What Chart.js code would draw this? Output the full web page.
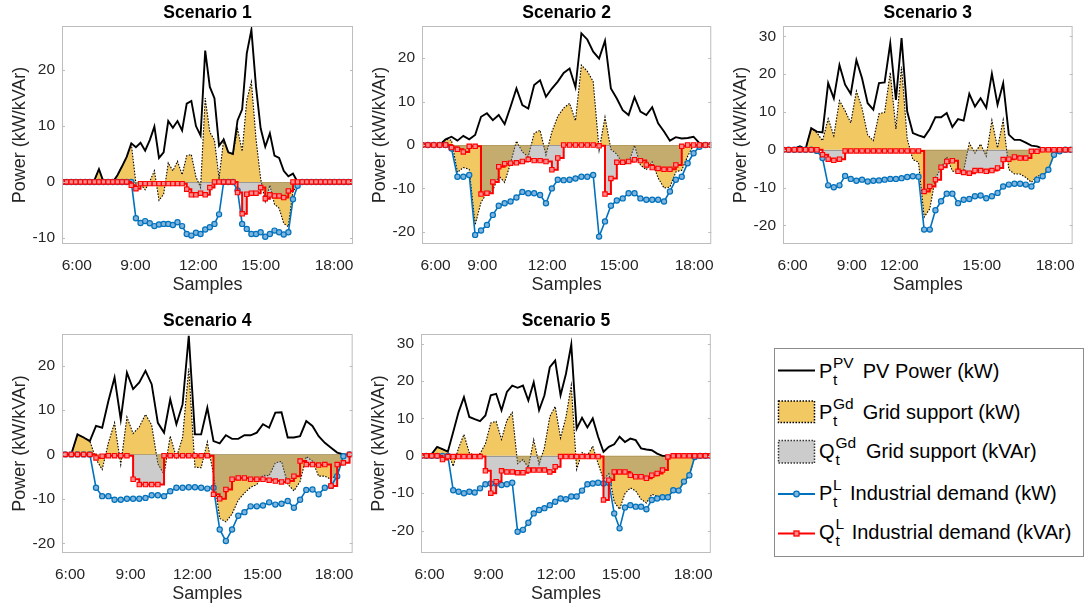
<!DOCTYPE html>
<html>
<head>
<meta charset="utf-8">
<script src="https://cdn.jsdelivr.net/npm/chart.js@4.4.0/dist/chart.umd.min.js"></script>
<style>
  html, body { margin: 0; padding: 0; background: #fff; }
  body { width: 1089px; height: 611px; position: relative; overflow: hidden;
         font-family: "Liberation Sans", Arial, sans-serif; }
  canvas.panel { position: absolute; }
  #legendKeys { position: absolute; left: 0; top: 0; }
  .lg { position: absolute; white-space: nowrap; line-height: 1; color: #000; }
  .big { font-size: 20px; }
  .small { font-size: 15.5px; }
</style>
</head>
<body>
<canvas class="panel" id="sc1"></canvas>
<canvas class="panel" id="sc2"></canvas>
<canvas class="panel" id="sc3"></canvas>
<canvas class="panel" id="sc4"></canvas>
<canvas class="panel" id="sc5"></canvas>

<svg id="legendKeys" width="1089" height="611">
  <rect x="774.5" y="348.5" width="309" height="208" fill="#fff" stroke="#8c8c8c" stroke-width="1"/>
  <line x1="778" y1="370.5" x2="815" y2="370.5" stroke="#000" stroke-width="2"/>
  <rect x="778.5" y="401" width="36" height="21.5" fill="rgb(242,200,99)" stroke="#000" stroke-width="1.5" stroke-dasharray="1.5 1.5"/>
  <rect x="778.5" y="440.5" width="36" height="22.5" fill="rgb(204,204,204)" stroke="#333" stroke-width="1.5" stroke-dasharray="1.5 1.5"/>
  <line x1="778" y1="494" x2="815" y2="494" stroke="#0072bd" stroke-width="2"/>
  <circle cx="796.5" cy="494" r="2.8" fill="#80b4dc" stroke="#0072bd" stroke-width="1.3"/>
  <line x1="778" y1="533.5" x2="815" y2="533.5" stroke="#ff0000" stroke-width="2"/>
  <rect x="794" y="531" width="5" height="5" fill="#ff8c8c" stroke="#ff0000" stroke-width="1.3"/>
</svg>
<div id="legendText"></div>

<script>
(function(){

    const hourLabels = ['6:00', '9:00', '12:00', '15:00', '18:00'];

    // Scenario 1
    const pv1 = [0,0,0,0,0,0,0,0.3,2.3,0,0,0,1.2,2.8,4.5,6.9,6.2,7.0,5.6,7.5,9.9,4.3,5.3,10.9,9.7,10.9,9.2,14.0,14.5,10.0,8.3,23.5,17.0,15.0,6.5,7.6,5.3,5.0,11.0,13.0,23.0,27.2,17.0,9.6,6.3,8.7,4.7,4.3,2.0,1.0,1.5,0,0,0,0,0,0,0,0,0,0,0,0,0];
    const pGrid1 = [0,0,0,0,0,0,0,0.3,2.3,0,0,0,1.2,2.8,4.5,6.9,-0.3,-0.4,-1.4,0.1,2.0,-3.3,-2.2,3.4,2.0,3.7,1.3,4.7,4.9,0.9,-1.0,15.0,8.9,7.5,0.7,7.6,5.3,5.0,9.5,5.5,14.6,17.9,7.7,0.6,-3.5,-0.6,-4.0,-4.7,-7.4,-8.0,-1.6,-0.7,0,0,0,0,0,0,0,0,0,0,0,0];
    const pLoad1 = [0,0,0,0,0,0,0,0,0,0,0,0,0,0,0,0,-6.5,-7.35,-7.0,-7.4,-7.9,-7.6,-7.5,-7.5,-7.7,-7.2,-7.9,-9.3,-9.6,-9.1,-9.3,-8.5,-8.1,-7.5,-5.8,0,0,0,-1.5,-7.5,-8.4,-9.3,-9.3,-9.0,-9.8,-9.3,-8.7,-9.0,-9.4,-9.0,-3.1,-0.7,0,0,0,0,0,0,0,0,0,0,0,0];
    const qLoad1 = [0,0,0,0,0,0,0,0,0,0,0,0,0,0,0,-0.6,-1.2,-0.3,-0.3,-0.3,-0.3,-0.3,-0.3,-0.3,-0.3,-0.3,-0.3,-1.3,-2.3,-2.3,-2.0,-2.3,-1.0,0,0,0,0,0,-1.9,-5.7,-2.2,-2.0,-2.0,-1.0,-3.0,-2.3,-2.5,-2.5,-2.8,-1.6,0,0,0,0,0,0,0,0,0,0,0,0,0,0];
    const hourAt1 = [3.2, 15.9, 29.5, 43.0, 58.9];

    // Scenario 2
    const pv2 = [0,0,0,0,1.3,1.9,1.0,2.1,1.3,2.3,6.5,7.3,5.7,6.9,4.8,8.8,13.0,9.2,8.4,13.8,14.9,11.1,13.0,14.6,16.6,17.6,13.3,25.7,24.3,21.5,19.9,24.0,13.0,10.7,8.0,6.9,11.0,7.7,6.9,8.7,5.0,3.1,1.0,1.8,1.5,1.6,1.9,0.4,0,0];
    const pGrid2 = [0,0,0,0,1.3,1.1,-6.3,-5.2,-5.6,-18.4,-13.2,-11.1,-10.4,-7.1,-8.6,-4.2,0.9,-1.6,-2.7,2.7,3.4,-2.3,3.0,6.6,8.5,9.6,5.6,18.4,17.0,14.6,-1.2,6.4,-1.0,-2.1,-4.3,-4.2,-0.1,-4.6,-5.7,-3.9,-7.6,-9.9,-9.7,-6.2,-5.8,-2.6,0,0,0,0];
    const pLoad2 = [0,0,0,0,0,-0.8,-7.3,-7.3,-6.9,-20.7,-19.7,-18.4,-16.1,-14.0,-13.4,-13.0,-12.1,-10.8,-11.1,-11.1,-11.5,-13.4,-10.0,-8.0,-8.1,-8.0,-7.7,-7.3,-7.3,-6.9,-21.1,-17.6,-14.0,-12.8,-12.3,-11.1,-11.1,-12.3,-12.6,-12.6,-12.6,-13.0,-10.7,-8.0,-7.3,-4.2,-1.9,-0.4,0,0];
    const qLoad2 = [0,0,0,0,0,-0.6,-1.0,-1.6,-0.3,-0.3,-11.3,-11.1,-8.5,-5.0,-4.3,-4.2,-4.1,-3.8,-3.3,-3.6,-3.6,-3.8,-5.7,-3.0,0,0,0,0,0,0,-0.2,-11.3,-7.7,-4.0,-4.0,-3.8,-3.4,-3.6,-4.6,-5.2,-5.4,-5.6,-5.6,-4.6,-0.3,0,0,0,0,0];
    const hourAt2 = [2.3, 10.2, 21.2, 33.4, 46.1];

    // Scenario 3
    const pv3 = [0,0,0.3,0.9,0.2,5.7,4.8,4.6,17.6,13.6,22.4,17.2,14.8,23.7,18.9,12.3,10.6,17.6,17.8,28.1,13.2,29.5,10.1,4.4,3.8,3.3,5.5,8.6,8.6,9.7,6.0,8.1,7.7,14.8,11.4,13.6,11.1,20.1,11.9,17.6,4.0,2.6,2.6,1.9,1.1,0.9,0.3,0,0,0,0,0];
    const pGrid3 = [0,0,0.3,0.9,0.2,5.7,4.5,2.4,8.2,3.7,13.0,10.3,7.1,15.5,11.0,3.9,2.4,9.5,9.9,20.4,5.5,22.0,2.9,-2.6,-3.3,-17.8,-15.6,-7.4,-5.0,-1.9,-5.6,-6.0,-5.5,1.8,-0.9,1.5,-1.7,7.8,0.5,7.9,-5.2,-6.4,-6.4,-7.3,-8.6,-7.0,-6.7,-5.3,-1.3,-0.4,0,0];
    const pLoad3 = [0,0,0,0,0,0,-0.3,-2.2,-9.4,-9.9,-9.4,-6.9,-7.7,-8.2,-7.9,-8.4,-8.2,-8.1,-7.9,-7.7,-7.7,-7.5,-7.2,-7.0,-7.1,-21.1,-21.1,-16.0,-13.6,-11.6,-11.6,-14.1,-13.2,-13.0,-12.3,-12.1,-12.8,-12.3,-11.4,-9.7,-9.2,-9.0,-9.0,-9.2,-9.7,-7.9,-7.0,-5.3,-1.3,-0.4,0,0];
    const qLoad3 = [0,0,0,0,0,0,0,-1.3,-2.5,-2.8,-2.5,-0.3,-0.3,-0.3,-0.3,-0.3,-0.3,-0.3,-0.3,-0.3,-0.3,-0.3,-0.3,-0.3,-0.3,-11.0,-9.7,-7.9,-4.6,-3.1,-2.9,-5.7,-6.0,-6.2,-5.5,-5.5,-5.7,-5.5,-4.8,-2.6,-2.5,-1.9,-2.2,-2.2,-0.4,-0.4,0,0,0,0,0,0];
    const hourAt3 = [1.7, 12.2, 20.6, 35.2, 48.2];

    // Scenario 4
    const pv4 = [0,0,4.5,3.8,3.0,6.4,6.0,12.0,17.3,7.9,18.4,14.7,16.2,18.8,15.8,7.1,4.9,12.4,6.8,11.3,26.7,4.5,4.5,10.5,3.0,2.5,4.3,3.5,3.5,4.3,4.3,4.9,6.8,6.0,9.4,9.5,3.8,3.8,4.1,7.5,6.4,4.1,2.6,1.5,0.4,0,0];
    const pGrid4 = [0,0,4.5,3.8,3.0,-1.1,-3.4,2.6,7.1,-2.3,8.4,4.7,6.2,9.0,6.6,-2.1,-4.5,4.1,-0.7,3.8,19.3,-2.9,-3.0,2.8,-4.5,-14.4,-15.2,-13.4,-10.3,-8.7,-7.4,-6.8,-4.7,-4.8,-1.9,-1.6,-6.7,-8.2,-6.1,-0.5,-1.5,-4.9,-4.9,-5.6,-4.5,-0.4,0];
    const pLoad4 = [0,0,0,0,0,-7.5,-9.4,-9.4,-10.2,-10.2,-10.0,-10.0,-10.0,-9.8,-9.2,-9.2,-9.4,-8.3,-7.5,-7.5,-7.4,-7.4,-7.5,-7.7,-7.5,-16.9,-19.5,-16.9,-13.8,-13.0,-11.7,-11.7,-11.5,-10.8,-11.3,-11.1,-10.5,-12.0,-10.2,-8.0,-7.9,-9.0,-7.5,-7.1,-4.9,-0.4,0];
    const qLoad4 = [0,0,0,0,0,-0.8,-0.4,-0.3,-0.3,-0.3,-0.3,-5.6,-6.8,-6.8,-6.8,-6.8,-0.3,-0.3,-0.3,-0.3,-0.3,-0.3,-0.3,-0.3,-9.0,-10.0,-7.9,-5.6,-5.3,-5.3,-5.6,-5.6,-5.6,-5.8,-6.0,-6.2,-6.0,-4.9,-1.5,-2.3,-2.3,-2.4,-2.3,-7.1,-2.3,-1.9,0];
    const hourAt4 = [0.8, 10.6, 20.6, 31.9, 43.5];

    // Scenario 5
    const pv5 = [0,0,0.5,2.4,1.8,1.1,6.4,11.7,15.7,10.4,9.8,9.3,10.8,16.2,16.6,12.2,17.1,18.8,18.2,18.8,14.8,19.7,12.2,16.2,23.7,25.5,16.2,21.9,29.8,7.3,10.2,7.6,10.0,5.1,1.1,2.4,3.1,5.1,3.7,4.6,4.2,2.0,1.7,1.5,0.6,0,0,0,0,0,0,0,0,0,0];
    const pGrid5 = [0,0,0.5,2.4,1.8,1.1,-2.8,2.1,5.7,0.8,0,0.6,3.2,8.8,9.2,4.4,9.5,11.6,-2.1,-1.0,-3.1,4.3,-2.3,2.2,10.5,13.2,4.8,10.3,18.9,-3.6,0.9,0,2.6,-2.1,-6.3,-4.8,-12.3,-14.3,-10.1,-8.6,-9.4,-11.6,-12.6,-10.3,-10.8,-11.1,-11.1,-9.2,-9.3,-6.9,-5.2,-0.3,0,0,0];
    const pLoad5 = [0,0,0,0,0,0,-9.2,-9.6,-10.0,-9.6,-9.8,-8.7,-7.6,-7.4,-7.4,-7.8,-7.6,-7.2,-20.3,-19.8,-17.9,-15.4,-14.5,-14.0,-13.2,-12.3,-11.4,-11.6,-10.9,-10.9,-9.3,-7.6,-7.4,-7.2,-7.4,-7.2,-15.4,-19.4,-13.8,-13.2,-13.6,-13.6,-14.3,-11.8,-11.4,-11.1,-11.1,-9.2,-9.3,-6.9,-5.2,-0.3,0,0,0];
    const qLoad5 = [0,0,0,0,-1.0,-0.2,-0.2,-0.2,-0.2,-0.2,-0.2,-0.2,-4.0,-10.0,-6.9,-4.0,-4.3,-4.3,-4.5,-4.5,-3.8,-3.8,-3.8,-3.8,-4.3,-2.9,-0.2,-0.2,-0.2,-0.2,-0.2,-0.2,-0.2,-0.2,-11.8,-6.5,-4.3,-4.3,-4.3,-5.2,-5.6,-5.6,-6.0,-5.2,-4.7,-3.8,-0.3,0,0,0,0,0,0,0,0];
    const hourAt5 = [1.6, 12.6, 25.2, 37.3, 50.7];

    const legendRows = [
        { sym: 'P', sup: 'PV', text: 'PV Power (kW)' },
        { sym: 'P', sup: 'Gd', text: 'Grid support (kW)' },
        { sym: 'Q', sup: 'Gd', text: 'Grid support (kVAr)' },
        { sym: 'P', sup: 'L', text: 'Industrial demand (kW)' },
        { sym: 'Q', sup: 'L', text: 'Industrial demand (kVAr)' }
    ];

    const FONT = '"Liberation Sans", Arial, sans-serif';
    const AXIS_GREY = '#262626';
    const Y_AXIS_W = 62, X_AXIS_H = 52, TITLE_H = 26, PAD_R = 8, PLOT_W = 296;

    const panels = [
        { id: 'sc1', title: 'Scenario 1', pv: pv1, pGrid: pGrid1, pLoad: pLoad1, qLoad: qLoad1, hourAt: hourAt1,
          left: 62, top: 26, h: 218, xMin: 0, xMax: 63, yMin: -11.1, yMax: 27.9 },
        { id: 'sc2', title: 'Scenario 2', pv: pv2, pGrid: pGrid2, pLoad: pLoad2, qLoad: qLoad2, hourAt: hourAt2,
          left: 422, top: 26, h: 218, xMin: 0, xMax: 49, yMin: -22.8, yMax: 27.4 },
        { id: 'sc3', title: 'Scenario 3', pv: pv3, pGrid: pGrid3, pLoad: pLoad3, qLoad: qLoad3, hourAt: hourAt3,
          left: 783, top: 26, h: 218, xMin: 0, xMax: 51.3, yMin: -24.9, yMax: 32.7 },
        { id: 'sc4', title: 'Scenario 4', pv: pv4, pGrid: pGrid4, pLoad: pLoad4, qLoad: qLoad4, hourAt: hourAt4,
          left: 62, top: 334, h: 219, xMin: -0.5, xMax: 46.5, yMin: -22.2, yMax: 27.1 },
        { id: 'sc5', title: 'Scenario 5', pv: pv5, pGrid: pGrid5, pLoad: pLoad5, qLoad: qLoad5, hourAt: hourAt5,
          left: 421, top: 334, h: 219, xMin: 0, xMax: 54, yMin: -26.0, yMax: 32.6 }
    ];

    function _xy(arr){
        return arr.map((v, i) => ({ x: i, y: v }));
    }

    // axes box, inward y ticks, zero baseline and the panel title
    const framePlugin = {
        id: 'frame',
        beforeDatasetsDraw(chart){
            const { ctx, chartArea: a, scales: { y } } = chart;
            const y0 = Math.round(y.getPixelForValue(0)) + 0.5;
            ctx.save();
            ctx.strokeStyle = '#a8a8a8';
            ctx.lineWidth = 1;
            ctx.beginPath();
            ctx.moveTo(a.left, y0);
            ctx.lineTo(a.right, y0);
            ctx.stroke();
            ctx.restore();
        },
        afterDraw(chart, args, opts){
            const { ctx, chartArea: a, scales: { y } } = chart;
            ctx.save();
            ctx.strokeStyle = '#bdbdbd';
            ctx.lineWidth = 1;
            ctx.strokeRect(a.left + 0.5, a.top + 0.5, a.right - a.left - 1, a.bottom - a.top - 1);
            ctx.beginPath();
            y.ticks.forEach(t => {
                const py = Math.round(y.getPixelForValue(t.value)) + 0.5;
                ctx.moveTo(a.left, py); ctx.lineTo(a.left + 3, py);
                ctx.moveTo(a.right, py); ctx.lineTo(a.right - 3, py);
            });
            ctx.stroke();
            ctx.fillStyle = '#000';
            ctx.font = 'bold 17.5px ' + FONT;
            ctx.textAlign = 'center';
            ctx.textBaseline = 'middle';
            ctx.fillText(opts.text, (a.left + a.right) / 2, a.top - 13);
            ctx.restore();
        }
    };

    function _drawPanel(p){
        const canvas = document.getElementById(p.id);
        const w = Y_AXIS_W + PLOT_W + PAD_R;
        const h = TITLE_H + p.h + X_AXIS_H;
        canvas.width = w;
        canvas.height = h;
        canvas.style.left = (p.left - Y_AXIS_W) + 'px';
        canvas.style.top = (p.top - TITLE_H) + 'px';

        new Chart(canvas.getContext('2d'), {
            type: 'line',
            data: {
                datasets: [
                    { data: _xy(p.qLoad), stepped: true, borderColor: '#ff0000', borderWidth: 2,
                      pointStyle: 'rect', pointRadius: 3.1, pointBorderWidth: 1.1,
                      pointBackgroundColor: '#ff8c8c', pointBorderColor: '#ff0000', fill: false },
                    { data: _xy(p.pLoad), borderColor: '#0072bd', borderWidth: 1.6,
                      pointStyle: 'circle', pointRadius: 2.6, pointBorderWidth: 1.2,
                      pointBackgroundColor: '#80b4dc', pointBorderColor: '#0072bd', fill: false },
                    { data: _xy(p.pv), borderColor: '#000', borderWidth: 1.9, pointRadius: 0, fill: false },
                    // reactive grid support covers the reactive demand
                    { data: _xy(p.qLoad), stepped: true, borderColor: '#555', borderWidth: 1,
                      borderDash: [1.5, 1.5], backgroundColor: 'rgba(128,128,128,0.4)', pointRadius: 0, fill: 'origin' },
                    { data: _xy(p.pGrid), borderColor: '#000', borderWidth: 1.1,
                      borderDash: [1.5, 1.5], backgroundColor: 'rgba(237,177,32,0.7)', pointRadius: 0, fill: 'origin' }
                ]
            },
            options: {
                responsive: false,
                animation: false,
                devicePixelRatio: 1,
                layout: { padding: { top: TITLE_H, right: PAD_R, left: 0, bottom: 0 } },
                elements: { line: { tension: 0 } },
                plugins: {
                    legend: { display: false },
                    tooltip: { enabled: false },
                    frame: { text: p.title }
                },
                scales: {
                    x: {
                        type: 'linear',
                        min: p.xMin,
                        max: p.xMax,
                        afterBuildTicks: s => { s.ticks = p.hourAt.map(v => ({ value: v })); },
                        afterFit: s => { s.height = X_AXIS_H; },
                        grid: { display: false, drawTicks: false },
                        border: { display: false },
                        ticks: { autoSkip: false, maxRotation: 0, padding: 12, color: AXIS_GREY,
                                 font: { size: 15.5 }, callback: (v, i) => hourLabels[i] },
                        title: { display: true, text: 'Samples', color: AXIS_GREY,
                                 font: { size: 18 }, padding: { top: 0, bottom: 0 } }
                    },
                    y: {
                        min: p.yMin,
                        max: p.yMax,
                        afterFit: s => { s.width = Y_AXIS_W; },
                        grid: { display: false, drawTicks: false },
                        border: { display: false },
                        ticks: { stepSize: 10, includeBounds: false, padding: 7, color: AXIS_GREY,
                                 font: { size: 15.5 } },
                        title: { display: true, text: 'Power (kW/kVAr)', color: AXIS_GREY,
                                 font: { size: 18 }, padding: { top: 9, bottom: 0 } }
                    }
                }
            },
            plugins: [framePlugin]
        });
    }

    function _drawLegendText(){
        const baselines = [378.3, 419.3, 458.3, 500, 539.3];
        const textX = [862.7, 862.7, 866, 850, 851.7];
        let html = '';
        legendRows.forEach((row, i) => {
            const b = baselines[i];
            const supX = row.sym === 'Q' ? 835.5 : 833;
            html += `<span class="lg big" style="left:819px;top:${b - 16.9}px">${row.sym}</span>`;
            html += `<span class="lg small" style="left:${supX}px;top:${b - 10 - 13.1}px">${row.sup}</span>`;
            html += `<span class="lg small" style="left:${supX}px;top:${b + 6.7 - 13.1}px">t</span>`;
            html += `<span class="lg big" style="left:${textX[i]}px;top:${b - 16.9}px">${row.text}</span>`;
        });
        document.getElementById('legendText').innerHTML = html;
    }

    window.onload = function(){
        Chart.defaults.font.family = FONT;
        panels.forEach(_drawPanel);
        _drawLegendText();
    };

})();
</script>
</body>
</html>
